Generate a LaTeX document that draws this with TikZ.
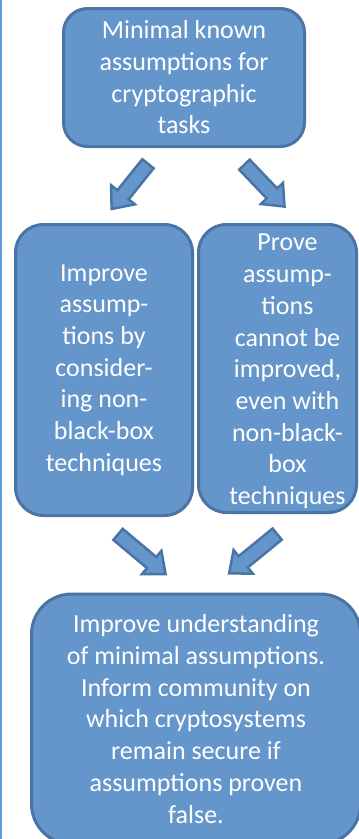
\documentclass[tikz,border=0pt]{standalone}
\usepackage{fontspec}
\setmainfont{Carlito}
\usepackage{xcolor}
\definecolor{Steel Blue}{HTML}{6496CB}
\definecolor{Dark Steel}{HTML}{4A74A4}
\definecolor{Sky Line}{HTML}{5B9BD5}
\colorlet{cFill}{Steel Blue}
\colorlet{cEdge}{Dark Steel}
\colorlet{cRule}{Sky Line}
\usepackage{tikz}
\usetikzlibrary{positioning, shapes.arrows}
\tikzset{
	box/.style={
		draw=cEdge,
		fill=cFill,
		line width=3pt,
		rounded corners=#1,
		inner sep=0pt,
		text=white,
		align=center,
		font=\fontsize{26}{31.7}\selectfont
	},
	box/.default=25pt,
	box text/.style={
		text=white,
		align=center,
		inner sep=0pt,
		font=\fontsize{26}{31.7}\selectfont
	},
	block arrow/.style={
		single arrow,
		draw=cEdge,
		fill=cFill,
		line width=2.5pt,
		inner sep=6pt,
		minimum height=58pt,
		single arrow head extend=8pt,
		single arrow tip angle=80,
		sloped,
		allow upside down
	}
}

\begin{document}
\begin{tikzpicture}[x=1pt, y=-1pt]
\useasboundingbox (0,0) rectangle (359,839);
\draw[cRule, line width=1.5pt] (0.75,0) -- (0.75,839);

% ---
% boxes
% ---
\node[box=24pt, minimum width=241pt, minimum height=138pt] at (184,77.5) (m-0) {Minimal known\\assumptions for\\cryptographic\\tasks};
\node[box=28pt, minimum width=177pt, minimum height=291pt] at (104,370) (m-1) {Improve\\assump-\\tions by\\consider-\\ing non-\\black-box\\techniques};
\node[box=28pt, minimum width=158pt, minimum height=288pt] at (277.5,368.5) (m-2) {};
\node[box text] at ([xshift=10pt, yshift=-3pt]m-2.center) (m-2-text) {Prove\\assump-\\tions\\cannot be\\improved,\\even with\\non-black-\\box\\techniques};
\node[box=40pt, minimum width=329pt, minimum height=250pt] at (196,719) (m-3) {Improve understanding\\of minimal assumptions.\\Inform community on\\which cryptosystems\\remain secure if\\assumptions proven\\false.};

% ---
% block arrows
% ---
\coordinate (a-0-s) at (151,160);
\coordinate (a-0-e) at (114,206);
\coordinate (a-1-s) at (240,160);
\coordinate (a-1-e) at (283,205);
\coordinate (a-2-s) at (114,531);
\coordinate (a-2-e) at (163,572);
\coordinate (a-3-s) at (281,531);
\coordinate (a-3-e) at (232,571);

\path (a-0-s) -- node[block arrow] (a-0) {} (a-0-e);
\path (a-1-s) -- node[block arrow] (a-1) {} (a-1-e);
\path (a-2-s) -- node[block arrow, minimum height=62pt] (a-2) {} (a-2-e);
\path (a-3-s) -- node[block arrow, minimum height=62pt] (a-3) {} (a-3-e);
\end{tikzpicture}
\end{document}
